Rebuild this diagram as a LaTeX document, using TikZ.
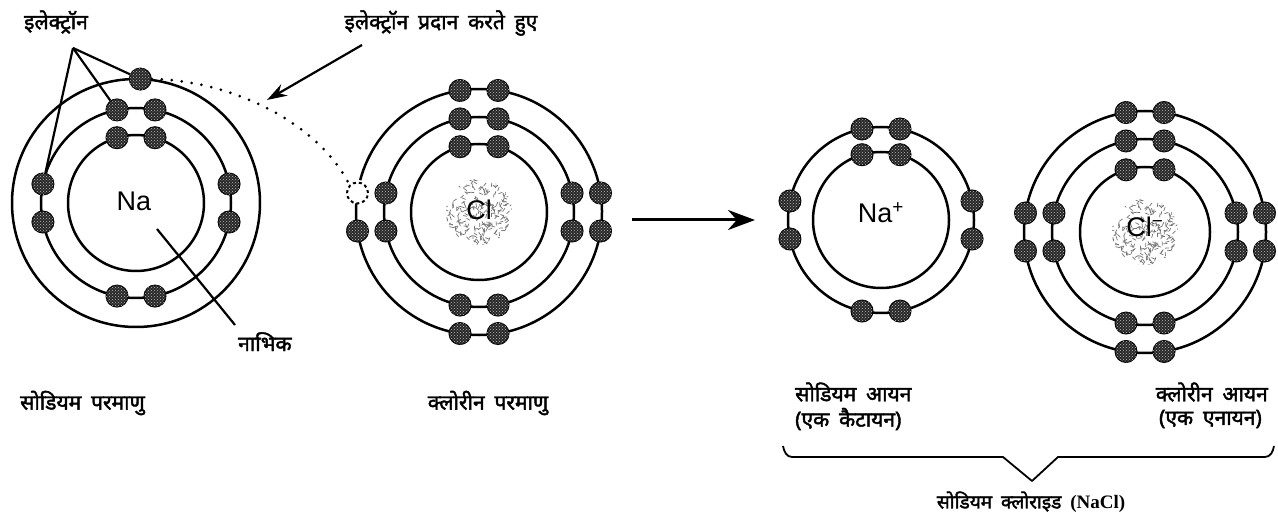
\documentclass[tikz,border=0pt]{standalone}
\usepackage{fontspec}
\usetikzlibrary{arrows.meta,patterns,calc}
\newfontfamily\devfont[Script=Devanagari,FakeBold=2,WordSpace=1.8]{Noto Sans}
\newfontfamily\symfont{Liberation Sans}
\newfontfamily\formulafont{Liberation Serif}

\tikzset{
  orbit/.style={draw=black, line width=2.5pt},
  electron/.style={circle, draw=black, line width=1pt, fill=black!85,
    inner sep=0pt, minimum size=22pt,
    postaction={pattern=crosshatch dots, pattern color=white!75!black}},
  emptyslot/.style={circle, draw=black, dashed, line width=2pt, inner sep=0pt, minimum size=21pt},
  elem/.style={font=\symfont\fontsize{27}{30}\selectfont, inner sep=0pt},
  devlabel/.style={font=\devfont\fontsize{21}{24}\selectfont, inner sep=0pt},
  pointer/.style={draw=black, line width=2.2pt},
  transfer/.style={draw=black, line width=3pt, line cap=round, dash pattern=on 0pt off 10pt},
  bigarrow/.style={draw=black, line width=3pt, -{Stealth[length=27pt,width=20pt]}},
  brace/.style={draw=black, line width=1.8pt, line join=round},
}

% pairs of electrons placed symmetrically about each base direction of a shell
\newcommand\shellpairs[4]{%
  \foreach \b in {#4} {
    \node[electron] (#3-\b a) at ($(#1)+({\b-asin(19/#2)}:#2)$) {};
    \node[electron] (#3-\b b) at ($(#1)+({\b+asin(19/#2)}:#2)$) {};
  }%
}

% speckled grey texture of a chlorine nucleus
\newcommand\speckle[2]{%
  \begin{scope}
    \clip (#1) circle[radius=#2];
    \pgfmathsetseed{#2}
    \foreach \k in {1,...,220} {
      \pgfmathsetmacro\ang{rnd*360}
      \pgfmathsetmacro\rr{sqrt(rnd)*(#2)}
      \pgfmathsetmacro\dir{rnd*360}
      \draw[black!55, line width=0.7pt] ($(#1)+(\ang:\rr)$) -- ++(\dir:4);
    }
  \end{scope}%
}

\begin{document}
\begin{tikzpicture}[x=1pt, y=1pt]
\fill[white] (0,0) rectangle (1278,520);
\useasboundingbox (0,0) rectangle (1278,520);

% atom and ion centres
\coordinate (na)  at (136,317);
\coordinate (cl)  at (479,308);
\coordinate (nap) at (881,300);
\coordinate (clm) at (1145,288);

% ---------------- sodium atom ----------------
\draw[orbit] (na) circle[radius=68];
\draw[orbit] (na) circle[radius=95];
\draw[orbit] (na) circle[radius=124];
\shellpairs{na}{68}{na-i}{90}
\shellpairs{na}{95}{na-m}{0,90,180,270}
\node[electron] (na-o1) at ($(na)+(88:124)$) {};
\node[elem] (na-sym) at ($(na)+(-2,2)$) {Na};

% ---------------- chlorine atom ----------------
\speckle{cl}{33}
\draw[orbit] (cl) circle[radius=68];
\draw[orbit] (cl) circle[radius=95];
\draw[orbit] ($(cl)+(176:123)$) arc[start angle=176, end angle=525, radius=123];
\shellpairs{cl}{68}{cl-i}{90}
\shellpairs{cl}{95}{cl-m}{0,90,180,270}
\shellpairs{cl}{123}{cl-o}{0,90,270}
\node[electron] (cl-o7) at ($(cl)+(188.9:123)$) {};
\node[emptyslot] (cl-slot) at ($(cl)+(171.1:123)$) {};
\node[elem] (cl-sym) at ($(cl)+(0,2)$) {Cl};

% ---------------- sodium ion ----------------
\draw[orbit] (nap) circle[radius=68];
\draw[orbit] (nap) circle[radius=93];
\shellpairs{nap}{68}{nap-i}{90}
\shellpairs{nap}{93}{nap-o}{0,90,180,270}
\node[elem] (nap-sym) at ($(nap)+(0,7)$) {Na\textsuperscript{+}};

% ---------------- chloride ion ----------------
\speckle{clm}{33}
\draw[orbit] (clm) circle[radius=65];
\draw[orbit] (clm) circle[radius=93];
\draw[orbit] (clm) circle[radius=121];
\shellpairs{clm}{65}{clm-i}{90}
\shellpairs{clm}{93}{clm-m}{0,90,180,270}
\shellpairs{clm}{121}{clm-o}{0,90,180,270}
\node[elem] (clm-sym) at ($(clm)+(0,5)$) {Cl\textsuperscript{−}};

% ---------------- electron labels and transfer ----------------
\node[devlabel] (lbl-electron) at (56,498) {इलेक्ट्रॉन};
\coordinate (electron-hub) at (73,472);
\draw[pointer] (electron-hub) -- (na-o1);
\draw[pointer] (electron-hub) -- (na-m-90b);
\draw[pointer] (electron-hub) -- (na-m-180a);

\draw[transfer] (na-o1.east) .. controls (230,440) and (318,398) .. (cl-slot.north west);

\node[devlabel] (lbl-donate) at (441,497) {इलेक्ट्रॉन प्रदान करते हुए};
\coordinate (donate-tail) at (362,475);
\coordinate (donate-tip) at (267,420);
\draw[pointer, -{Stealth[length=20pt,width=13pt]}] (donate-tail) -- (donate-tip);

% nucleus pointer
\node[devlabel, anchor=north west] (lbl-nucleus) at (238,188) {नाभिक};
\coordinate (nucleus-pt) at (157,291);
\coordinate (nucleus-end) at (235,195);
\draw[pointer] (nucleus-pt) -- (nucleus-end);

% reaction arrow
\coordinate (react-start) at (632,300);
\coordinate (react-end) at (755,300);
\draw[bigarrow] (react-start) -- (react-end);

% ---------------- captions ----------------
\node[devlabel, anchor=west] (cap-na) at (20,117) {सोडियम परमाणु};
\node[devlabel] (cap-cl) at (488,117) {क्लोरीन परमाणु};
\node[devlabel, anchor=west] (cap-nap) at (795,128) {सोडियम आयन};
\node[devlabel, anchor=west] (cap-nap2) at (795,101) {(एक कैटायन)};
\node[devlabel, anchor=east] (cap-clm) at (1268,128) {क्लोरीन आयन};
\node[devlabel, anchor=east] (cap-clm2) at (1262,101) {(एक एनायन)};

% brace joining both ions
\coordinate (brace-l) at (783,74);
\coordinate (brace-r) at (1274,74);
\coordinate (brace-tip) at (1032,39);
\draw[brace] (brace-l) to[out=-80,in=180] (792,63) -- (1003,63) -- (brace-tip)
  -- (1058,63) -- (1265,63) to[out=0,in=-100] (brace-r);
\node[devlabel, font=\devfont\fontsize{19}{22}\selectfont] (cap-nacl) at (1031,18)
  {सोडियम क्लोराइड {\formulafont\bfseries (NaCl)}};
\end{tikzpicture}
\end{document}
